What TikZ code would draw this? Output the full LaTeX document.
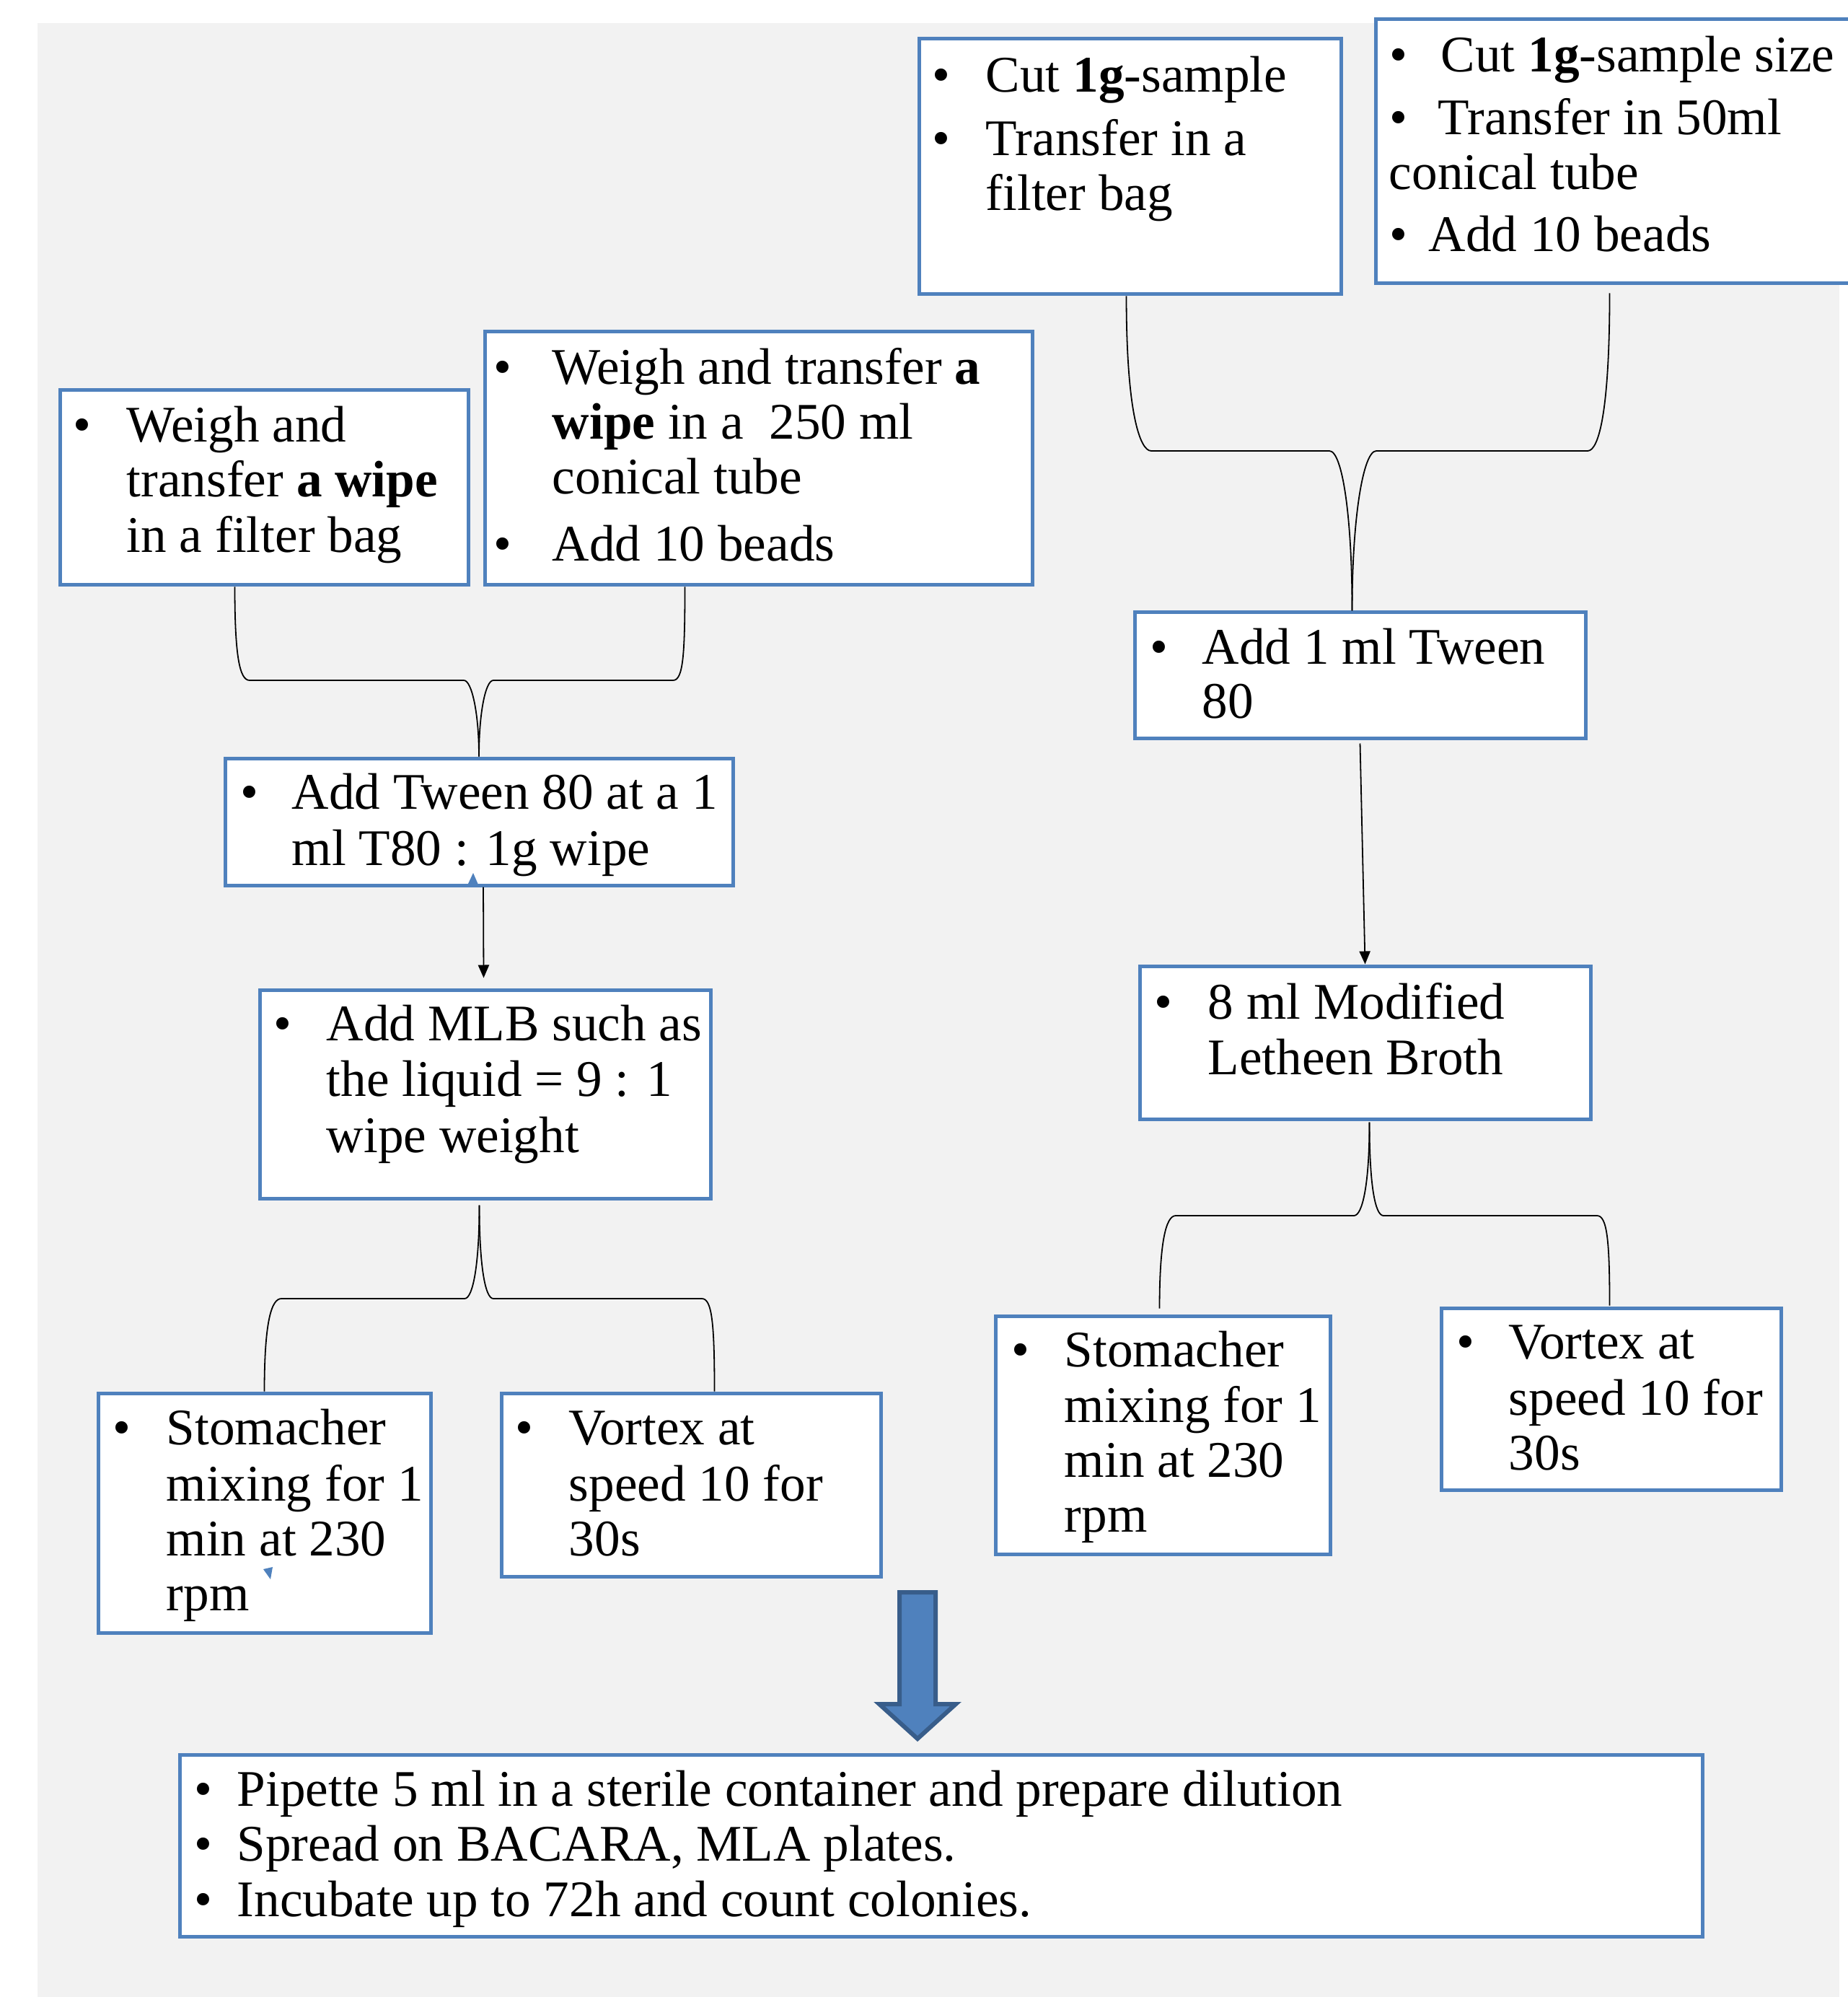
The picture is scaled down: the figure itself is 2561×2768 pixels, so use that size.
\documentclass[tikz,border=0pt]{standalone}
\usepackage{fontspec}
\setmainfont{Liberation Serif}
\usetikzlibrary{arrows.meta,calc,fit}
\definecolor{bord}{HTML}{4F81BD}
\definecolor{bgc}{HTML}{F2F2F2}
\definecolor{arrb}{HTML}{385D8A}
\newcommand\mytl[4]{\node[txt] (#1) at (#2,#3) {#4};}
\newcommand\mybul[3]{\node[txt] (#1) at ($(#2,#3)+(-10,0)$) {\textbullet};}
\begin{document}
\begin{tikzpicture}[x=0.25pt,y=-0.25pt,
  box/.style={draw=bord,fill=white,line width=1.25pt,inner sep=0pt},
  txt/.style={inner sep=0pt,anchor=base west,font=\fontsize{17.8}{21}\selectfont},
  conn/.style={draw=black,line width=0.45pt},
  arr/.style={conn,-{Triangle[length=4.5pt,width=3.8pt]}}]
\useasboundingbox (0,0) rectangle (2561,2768);
\fill[bgc] (52,32) rectangle (2550,2768);

% boxes
\node[box,fit={(83,541) (649,811)}] (A) {};
\node[box,fit={(672,460) (1431,811)}] (B) {};
\node[box,fit={(1274,54) (1859,408)}] (C) {};
\node[box,fit={(1907,27) (2600,393)}] (D) {};
\node[box,fit={(312,1051) (1016,1227)}] (E) {};
\node[box,fit={(360,1372) (985,1661)}] (F) {};
\node[box,fit={(136,1931) (597,2263)}] (G) {};
\node[box,fit={(695,1931) (1221,2185)}] (H) {};
\node[box,fit={(1573,849) (2198,1023)}] (I) {};
\node[box,fit={(1580,1339) (2205,1551)}] (J) {};
\node[box,fit={(1380,1824) (1844,2154)}] (K) {};
\node[box,fit={(1998,1813) (2469,2065)}] (L) {};
\node[box,fit={(249,2432) (2360,2684)}] (M) {};

% texts
\mybul{Ab1}{111}{613}
\mytl{A1}{175}{613}{Weigh and}
\mytl{A2}{175}{689}{transfer \textbf{a wipe}}
\mytl{A3}{175}{766}{in a filter bag}

\mybul{Bb1}{694}{533}
\mytl{B1}{765}{533}{Weigh and transfer \textbf{a}}
\mytl{B2}{765}{609}{\textbf{wipe} in a~ 250 ml}
\mytl{B3}{765}{685}{conical tube}
\mybul{Bb2}{694}{778}
\mytl{B4}{765}{778}{Add 10 beads}

\mybul{Cb1}{1302}{128}
\mytl{C1}{1366}{128}{Cut \textbf{1g}-sample}
\mybul{Cb2}{1302}{216}
\mytl{C2}{1366}{216}{Transfer in a}
\mytl{C3}{1366}{292}{filter bag}

\mybul{Db1}{1936}{100}
\mytl{D1}{1997}{100}{Cut \textbf{1g}-sample size}
\mybul{Db2}{1936}{187}
\mytl{D2}{1993}{187}{Transfer in 50ml}
\mytl{D3}{1925}{263}{conical tube}
\mybul{Db3}{1936}{349}
\mytl{D4}{1980}{349}{Add 10 beads}

\mybul{Eb1}{343}{1121}
\mytl{E1}{404}{1121}{Add Tween 80 at a 1}
\mytl{E2}{404}{1199}{ml T80 : 1g wipe}

\mybul{Fb1}{389}{1442}
\mytl{F1}{452}{1442}{Add MLB such as}
\mytl{F2}{452}{1519}{the liquid = 9 : 1}
\mytl{F3}{452}{1597}{wipe weight}

\mybul{Gb1}{166}{2002}
\mytl{G1}{230}{2002}{Stomacher}
\mytl{G2}{230}{2080}{mixing for 1}
\mytl{G3}{230}{2156}{min at 230}
\mytl{G4}{230}{2232}{rpm}

\mybul{Hb1}{724}{2002}
\mytl{H1}{788}{2002}{Vortex at}
\mytl{H2}{788}{2080}{speed 10 for}
\mytl{H3}{788}{2156}{30s}

\mybul{Ib1}{1604}{921}
\mytl{I1}{1666}{921}{Add 1 ml Tween}
\mytl{I2}{1666}{996}{80}

\mybul{Jb1}{1610}{1412}
\mytl{J1}{1674}{1412}{8 ml Modified}
\mytl{J2}{1674}{1489}{Letheen Broth}

\mybul{Kb1}{1412}{1894}
\mytl{K1}{1475}{1894}{Stomacher}
\mytl{K2}{1475}{1971}{mixing for 1}
\mytl{K3}{1475}{2047}{min at 230}
\mytl{K4}{1475}{2123}{rpm}

\mybul{Lb1}{2029}{1883}
\mytl{L1}{2091}{1883}{Vortex at}
\mytl{L2}{2091}{1961}{speed 10 for}
\mytl{L3}{2091}{2037}{30s}

\mybul{Mb1}{279}{2503}
\mytl{M1}{328}{2503}{Pipette 5 ml in a sterile container and prepare dilution}
\mybul{Mb2}{279}{2579}
\mytl{M2}{328}{2579}{Spread on BACARA, MLA plates.}
\mybul{Mb3}{279}{2656}
\mytl{M3}{328}{2656}{Incubate up to 72h and count colonies.}

% top-left brace
\draw[conn] ($(A.south west)+(245,0)$) .. controls +(0,95) and +(-14,0) .. (346,943) -- (643,943) .. controls +(11,0) and +(0,-60) .. (E.north);
\draw[conn] ($(B.south west)+(280,0)$) .. controls +(0,95) and +(14,0) .. (933,943) -- (684,943) .. controls +(-11,0) and +(0,-60) .. (E.north);

% top-right brace
\draw[conn] ($(C.south west)+(290,0)$) .. controls +(0,160) and +(-16,0) .. (1596,625) -- (1843,625) .. controls +(18,0) and +(0,-130) .. ($(I.north west)+(304,0)$);
\draw[conn] ($(D.south west)+(327,11)$) .. controls +(0,160) and +(16,0) .. (2201,625) -- (1908,625) .. controls +(-18,0) and +(0,-130) .. ($(I.north west)+(304,0)$);

% straight arrows
\draw[arr] ($(E.south)+(6,0)$) -- ($(F.north)+(-2,-14)$);
\draw[arr] ($(I.south)+(0,5)$) -- (J.north);

% bottom-left brace
\draw[conn] ($(F.south)+(-8,7)$) .. controls +(0,80) and +(12,0) .. (644,1800) -- (390,1800) .. controls +(-14,0) and +(0,-95) .. ($(G.north west)+(233,0)$);
\draw[conn] ($(F.south)+(-8,7)$) .. controls +(0,80) and +(-12,0) .. (684,1800) -- (973,1800) .. controls +(14,0) and +(0,-95) .. ($(H.north west)+(298,0)$);

% bottom-right brace
\draw[conn] ($(J.south)+(6,2)$) .. controls +(0,85) and +(12,0) .. (1877,1685) -- (1630,1685) .. controls +(-14,0) and +(0,-90) .. ($(K.north west)+(230,-8)$);
\draw[conn] ($(J.south)+(6,2)$) .. controls +(0,85) and +(-12,0) .. (1918,1685) -- (2214,1685) .. controls +(14,0) and +(0,-90) .. ($(L.north west)+(236,-1)$);

% big block arrow
\draw[fill=bord,draw=arrb,line width=1.5pt,line join=miter] (1247,2207) -- (1297,2207) -- (1297,2362) -- (1325,2362) -- (1272,2410) -- (1219,2362) -- (1247,2362) -- cycle;

% small marks
\fill[bord] (656,1210) -- (649,1225) -- (663,1226) -- cycle;
\fill[bord] (365,2175) -- (378,2172) -- (375,2189) -- cycle;
\end{tikzpicture}
\end{document}
